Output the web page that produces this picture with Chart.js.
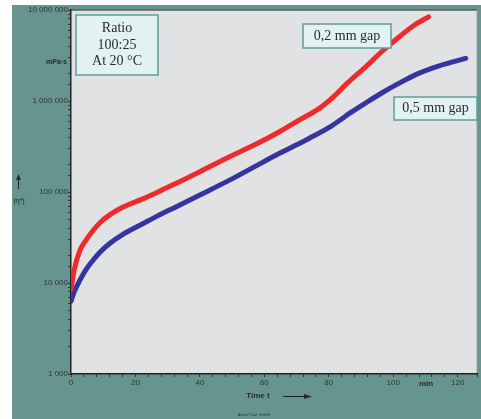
<!DOCTYPE html>
<html>
<head>
<meta charset="utf-8">
<script src="https://cdn.jsdelivr.net/npm/chart.js@4"></script>
<style>
    html, body { margin: 0; padding: 0; background: #ffffff; }
    #wrap { position: relative; width: 481px; height: 419px; }
</style>
</head>
<body>
<div id="wrap"><canvas id="chart"></canvas></div>
<script>
// Valores (tempo em min, viscosidade |η*| em mPa·s)
const redTime = [0, 1, 2.8, 4.5, 6.9, 9, 12, 16, 22.3, 27, 32.7, 40, 49.2, 57, 64.7, 70.9, 77.1, 81.1, 86, 91.5, 96.5, 101.9, 106.5, 111];
const redVisc = [8500, 14000, 23000, 29000, 38000, 46000, 56000, 68000, 84000, 100000, 125000, 167000, 244000, 330000, 459000, 620000, 830000, 1080000, 1600000, 2380000, 3500000, 5090000, 6800000, 8400000];

const blueTime = [0, 1, 2.8, 4.5, 6.9, 9, 12.1, 16, 22.4, 27, 32.7, 40, 49.2, 57, 64.7, 70, 74, 80, 83.3, 86.4, 91, 96.7, 102, 107, 114, 122.5];
const blueVisc = [6300, 8000, 10800, 13800, 17900, 21800, 27300, 34000, 45000, 55000, 69000, 92700, 135000, 190000, 266000, 330000, 390000, 510000, 610000, 730000, 930000, 1240000, 1580000, 1950000, 2420000, 2940000];

const seriesLabels = ['0,2 mm gap', '0,5 mm gap'];
const yTickLabels = [1000, 10000, 100000, 1000000, 10000000];
const xTickLabels = [0, 20, 40, 60, 80, 100, 120];

function toPoints(xs, ys) {
    return xs.map((x, i) => ({ x: x, y: ys[i] }));
}

function fmtSpaces(v) {
    return String(Math.round(v)).replace(/\B(?=(\d{3})+(?!\d))/g, ' ');
}

// Fundo, moldura e textos fixos
const framePlugin = {
    id: 'frame',
    beforeDraw(chart) {
        const ctx = chart.ctx;
        const a = chart.chartArea;
        ctx.save();
        ctx.fillStyle = '#ffffff';
        ctx.fillRect(0, 0, chart.width, chart.height);
        ctx.fillStyle = '#66958f';
        ctx.fillRect(12, 5, chart.width - 12, chart.height - 5);
        ctx.fillStyle = '#e1e2e4';
        ctx.fillRect(a.left, a.top, a.right - a.left, a.bottom - a.top);
        ctx.strokeStyle = '#55605e';
        ctx.lineWidth = 1.5;
        ctx.beginPath();
        ctx.moveTo(a.left, a.top);
        ctx.lineTo(a.right, a.top);
        ctx.stroke();
        ctx.strokeStyle = '#9aa3a3';
        ctx.lineWidth = 1;
        ctx.beginPath();
        ctx.moveTo(a.right, a.top);
        ctx.lineTo(a.right, a.bottom);
        ctx.stroke();
        ctx.restore();
    },
    afterDraw(chart) {
        const ctx = chart.ctx;
        ctx.save();

        function box(x, y, w, h, lines, lh) {
            ctx.fillStyle = '#e2f1f1';
            ctx.fillRect(x, y, w, h);
            ctx.strokeStyle = '#5f9d99';
            ctx.lineWidth = 1.5;
            ctx.strokeRect(x, y, w, h);
            ctx.fillStyle = '#2b2b2b';
            ctx.font = '14px "Liberation Serif", "DejaVu Serif", serif';
            ctx.textAlign = 'center';
            ctx.textBaseline = 'middle';
            const cy = y + h / 2 - (lines.length - 1) * lh / 2;
            lines.forEach((t, i) => ctx.fillText(t, x + w / 2, cy + i * lh));
        }

        box(76, 15, 82, 60, ['Ratio', '100:25', 'At 20 °C'], 16.5);
        box(303, 24, 88, 24, [seriesLabels[0]], 16);
        box(394, 97, 83, 23, [seriesLabels[1]], 16);

        ctx.fillStyle = '#2a2a2a';
        ctx.textBaseline = 'middle';

        // unidade e símbolo do eixo y
        ctx.font = 'bold 7px "Liberation Sans", Arial, sans-serif';
        ctx.textAlign = 'right';
        ctx.fillText('mPa·s', 67, 62);
        ctx.textAlign = 'center';
        ctx.font = '8px "Liberation Sans", Arial, sans-serif';
        ctx.fillText('|η*|', 19, 201);
        ctx.strokeStyle = '#222';
        ctx.lineWidth = 1;
        ctx.beginPath();
        ctx.moveTo(18.5, 189);
        ctx.lineTo(18.5, 178);
        ctx.stroke();
        ctx.beginPath();
        ctx.moveTo(18.5, 174);
        ctx.lineTo(16, 180);
        ctx.lineTo(21, 180);
        ctx.closePath();
        ctx.fill();

        // eixo x
        ctx.font = 'bold 8px "Liberation Sans", Arial, sans-serif';
        ctx.fillText('min', 426, 384);
        ctx.fillText('Time t', 258, 396);
        ctx.beginPath();
        ctx.moveTo(283, 396.5);
        ctx.lineTo(305, 396.5);
        ctx.stroke();
        ctx.beginPath();
        ctx.moveTo(312, 396.5);
        ctx.lineTo(304, 394);
        ctx.lineTo(304, 399);
        ctx.closePath();
        ctx.fill();

        ctx.font = '4px "Liberation Sans", Arial, sans-serif';
        ctx.fillStyle = '#333';
        ctx.fillText('Anton Paar GmbH', 254, 415);
        ctx.restore();
    }
};

const chart = new Chart(document.getElementById('chart'), {
    type: 'line',
    data: {
        datasets: [
            {
                label: seriesLabels[0],
                data: toPoints(redTime, redVisc),
                borderColor: '#f02a2a',
                borderWidth: 5,
                pointRadius: 0,
                borderCapStyle: 'round',
                cubicInterpolationMode: 'monotone'
            },
            {
                label: seriesLabels[1],
                data: toPoints(blueTime, blueVisc),
                borderColor: '#34359f',
                borderWidth: 5,
                pointRadius: 0,
                borderCapStyle: 'round',
                cubicInterpolationMode: 'monotone'
            }
        ]
    },
    options: {
        responsive: true,
        maintainAspectRatio: false,
        animation: false,
        devicePixelRatio: 1,
        layout: { padding: { top: 10, right: 4, left: 0, bottom: 0 } },
        plugins: { legend: { display: false }, tooltip: { enabled: false } },
        scales: {
            x: {
                type: 'linear',
                min: 0,
                max: 126,
                afterFit(scale) { scale.height = 45; },
                ticks: {
                    stepSize: 4,
                    autoSkip: false,
                    maxRotation: 0,
                    padding: 1,
                    color: '#333',
                    font: { family: '"Liberation Sans", Arial, sans-serif', size: 8 },
                    callback: v => xTickLabels.includes(v) ? String(v) : ''
                },
                grid: { drawOnChartArea: false, drawTicks: true, tickLength: 3, color: '#333' },
                border: { color: '#222', width: 1.5 }
            },
            y: {
                type: 'logarithmic',
                min: 1000,
                max: 10000000,
                afterFit(scale) { scale.width = 71; },
                ticks: {
                    autoSkip: false,
                    padding: 0,
                    color: '#333',
                    font: { family: '"Liberation Sans", Arial, sans-serif', size: 8 },
                    callback: v => yTickLabels.includes(v) ? fmtSpaces(v) : ''
                },
                grid: { drawOnChartArea: false, drawTicks: true, tickLength: 3, color: '#333' },
                border: { color: '#222', width: 1.5 }
            }
        }
    },
    plugins: [framePlugin]
});
</script>
</body>
</html>
